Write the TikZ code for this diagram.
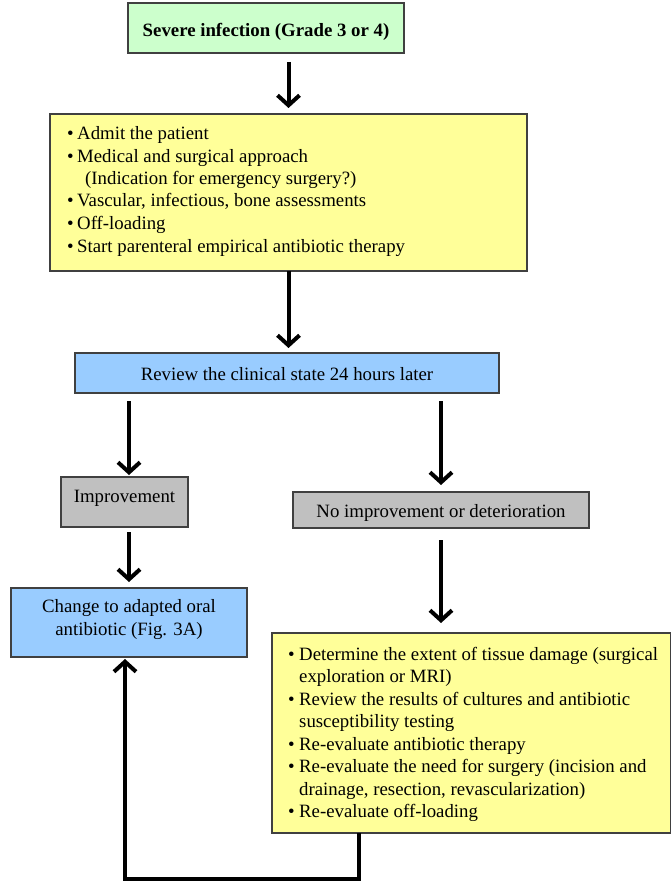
\documentclass[tikz,border=0pt]{standalone}
\usepackage{fontspec}
\setmainfont{Liberation Serif}
\usetikzlibrary{arrows.meta}
\definecolor{gfill}{HTML}{CCFFCC}
\definecolor{yfill}{HTML}{FFFF99}
\definecolor{bfill}{HTML}{99CCFF}
\definecolor{grfill}{HTML}{C0C0C0}
\definecolor{edge}{HTML}{404040}
\newcommand{\bul}[1]{\makebox[#1][l]{\textbullet}}
\begin{document}
\begin{tikzpicture}[x=1pt,y=-1pt,
  font=\fontsize{18.8}{22.6}\selectfont,
  box/.style={draw=edge, line width=1.2pt, inner sep=0pt, outer sep=0pt},
  ln/.style={anchor=base west, inner sep=0pt},
  cl/.style={anchor=base, inner sep=0pt},
  arr/.style={line width=4pt, -{Straight Barb[length=10pt,width=22pt]}}]
\useasboundingbox (0,0) rectangle (670,882);
% boxes
\node[box, fill=gfill, minimum width=276pt, minimum height=50pt] (top) at (266,28) {};
\node[box, fill=yfill, minimum width=477pt, minimum height=157pt] (b1) at (288.5,192.5) {};
\node[box, fill=bfill, minimum width=424pt, minimum height=40pt] (rev) at (287,373) {};
\node[box, fill=grfill, minimum width=127pt, minimum height=50pt] (imp) at (124.5,502) {};
\node[box, fill=grfill, minimum width=296pt, minimum height=36pt] (noimp) at (441,510) {};
\node[box, fill=bfill, minimum width=236pt, minimum height=69pt] (chg) at (129,622.5) {};
\node[box, fill=yfill, minimum width=399pt, minimum height=200pt] (b2) at (471.5,733) {};
% texts
\node[cl] (t0) at (266,37) {\textbf{Severe infection (Grade 3 or 4)}};
\node[ln] (t1a) at (67,140) {\bul{10pt}Admit the patient};
\node[ln] (t1b) at (67,163) {\bul{10pt}Medical and surgical approach};
\node[ln] (t1c) at (85,185) {(Indication for emergency surgery?)};
\node[ln] (t1d) at (67,207) {\bul{10pt}Vascular, infectious, bone assessments};
\node[ln] (t1e) at (67,230) {\bul{10pt}Off-loading};
\node[ln] (t1f) at (67,253) {\bul{10pt}Start parenteral empirical antibiotic therapy};
\node[cl] (trev) at (287,380) {Review the clinical state 24 hours later};
\node[cl] (timp) at (124.5,502) {Improvement};
\node[cl] (tnoimp) at (441,517) {No improvement or deterioration};
\node[cl] (tchg1) at (129,612) {Change to adapted oral};
\node[cl] (tchg2) at (129,635) {antibiotic (Fig. 3A)};
\node[ln] (t2a) at (288,660) {\bul{11pt}Determine the extent of tissue damage (surgical};
\node[ln] (t2b) at (299,682) {exploration or MRI)};
\node[ln] (t2c) at (288,705) {\bul{11pt}Review the results of cultures and antibiotic};
\node[ln] (t2d) at (299,727) {susceptibility testing};
\node[ln] (t2e) at (288,750) {\bul{11pt}Re-evaluate antibiotic therapy};
\node[ln] (t2f) at (288,772) {\bul{11pt}Re-evaluate the need for surgery (incision and};
\node[ln] (t2g) at (299,795) {drainage, resection, revascularization)};
\node[ln] (t2h) at (288,817) {\bul{11pt}Re-evaluate off-loading};
% connectors
\coordinate (fbR) at (359,879);
\coordinate (fbL) at (125,879);
\draw[arr, shorten <=9pt, shorten >=6pt] (b1.north |- top.south) -- (b1.north);
\draw[arr, shorten >=5pt] (b1.south) -- (rev.north -| b1.south);
\draw[arr, shorten <=8pt, shorten >=2pt] (rev.south -| chg.north) -- (imp.north -| chg.north);
\draw[arr, shorten <=8pt, shorten >=7pt] (rev.south -| noimp.north) -- (noimp.north);
\draw[arr, shorten <=5pt, shorten >=6pt] (imp.south -| chg.north) -- (chg.north);
\draw[arr, shorten <=12pt, shorten >=10pt] (noimp.south) -- (b2.north -| noimp.south);
\draw[arr, shorten >=2pt] (b2.south -| fbR) |- (fbL) -- (fbL |- chg.south);
\end{tikzpicture}
\end{document}
